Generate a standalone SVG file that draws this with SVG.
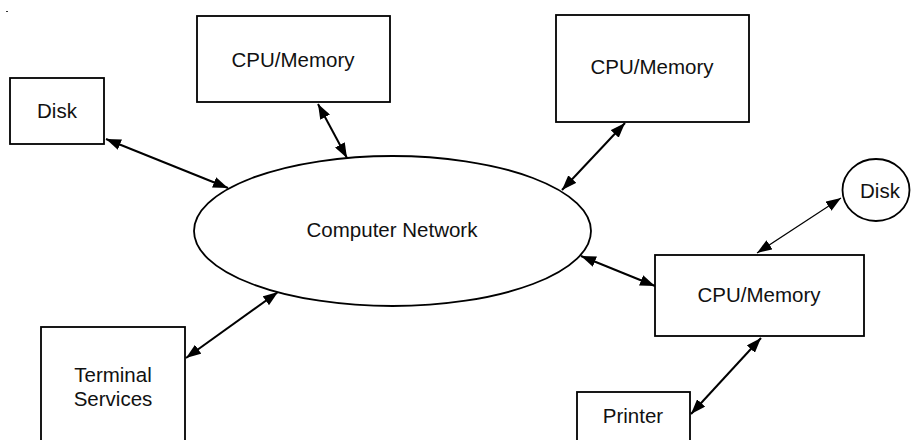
<svg xmlns="http://www.w3.org/2000/svg" width="911" height="440" viewBox="0 0 911 440">
<defs>
<style>
.box{fill:#fff;stroke:#000;stroke-width:1.8}
.lbl{font-family:"Liberation Sans",Arial,sans-serif;font-size:20.5px;fill:#111;text-anchor:middle}
.conn{stroke:#000;stroke-width:2;fill:none;marker-start:url(#ah);marker-end:url(#ah)}
.thin{stroke-width:1.1}
</style>
<marker id="ah" markerUnits="userSpaceOnUse" markerWidth="15" markerHeight="11" refX="15" refY="5.5" orient="auto-start-reverse">
<path d="M0,0 L15,5.5 L0,11 z" fill="#000"/>
</marker>
</defs>
<rect width="911" height="440" fill="#fff"/>
<rect x="6" y="11" width="2" height="1" fill="#333"/>
<g id="connectors">
<line class="conn" x1="106" y1="139" x2="228" y2="188"/>
<line class="conn" x1="318" y1="104" x2="347" y2="158"/>
<line class="conn" x1="625" y1="123" x2="562" y2="190"/>
<line class="conn" x1="581" y1="256" x2="655" y2="286"/>
<line class="conn thin" x1="757" y1="253" x2="841" y2="198"/>
<line class="conn" x1="761" y1="338" x2="691" y2="414"/>
<line class="conn" x1="186" y1="358" x2="278" y2="292"/>
</g>
<g id="disk1"><rect class="box" x="10" y="78" width="94" height="66"/><text class="lbl" x="57" y="118">Disk</text></g>
<g id="cpu1"><rect class="box" x="197" y="16" width="193" height="86"/><text class="lbl" x="293" y="67">CPU/Memory</text></g>
<g id="cpu2"><rect class="box" x="556" y="15" width="193" height="107"/><text class="lbl" x="652" y="74">CPU/Memory</text></g>
<g id="network"><ellipse class="box" cx="392.5" cy="231" rx="198.5" ry="75"/><text class="lbl" x="392" y="237">Computer Network</text></g>
<g id="disk2"><ellipse class="box" cx="876" cy="190" rx="33.5" ry="31"/><text class="lbl" x="880" y="198">Disk</text></g>
<g id="cpu3"><rect class="box" x="655" y="255" width="209" height="81"/><text class="lbl" x="759" y="302">CPU/Memory</text></g>
<g id="terminal"><rect class="box" x="41" y="327" width="144" height="120"/><text class="lbl" x="113" y="382">Terminal</text><text class="lbl" x="113" y="406">Services</text></g>
<g id="printer"><rect class="box" x="577" y="392" width="113" height="60"/><text class="lbl" x="633" y="423">Printer</text></g>
</svg>
